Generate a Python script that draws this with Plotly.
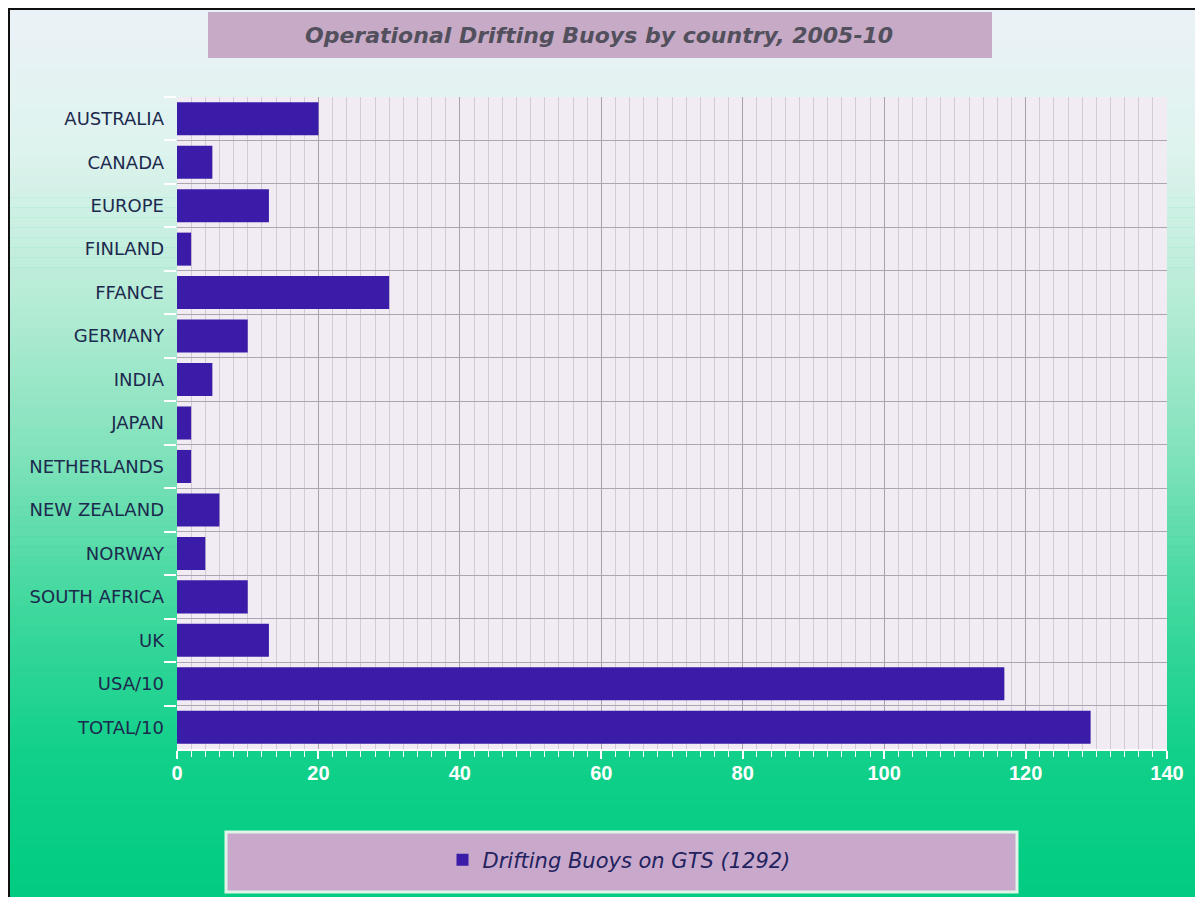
import plotly.graph_objects as go

countries = ["AUSTRALIA", "CANADA", "EUROPE", "FINLAND", "FFANCE", "GERMANY", "INDIA",
             "JAPAN", "NETHERLANDS", "NEW ZEALAND", "NORWAY", "SOUTH AFRICA", "UK",
             "USA/10", "TOTAL/10"]
buoys = [20, 5, 13, 2, 30, 10, 5, 2, 2, 6, 4, 10, 13, 117, 129.2]
series_name = "Drifting Buoys on GTS (1292)"
title_text = "Operational Drifting Buoys by country, 2005-10"
x_ticks = [0, 20, 40, 60, 80, 100, 120, 140]

W, H = 1203, 897
OFF = 8  # page body margin: screen = figure + 8
# plot area in screen pixels: x 177..1167, y 97..749
L = 177 - OFF
T = 97 - OFF
R = W - (1167 - OFF)
B = H - (749 - OFF)
PW, PH = W - L - R, H - T - B


def px(x):
    """screen x pixel -> paper coordinate"""
    return (x - OFF - L) / PW


def py(y):
    """screen y pixel -> paper coordinate"""
    return (H - B - (y - OFF)) / PH


fig = go.Figure()
fig.add_trace(go.Bar(
    x=buoys, y=countries, orientation="h", name=series_name,
    marker=dict(color="#3a1ca8", line=dict(width=0)), width=0.76,
))

shapes = []
# gradient background strips
stops = [(0, (236, 242, 248)), (150, (222, 243, 238)), (300, (182, 236, 214)),
         (450, (130, 226, 188)), (600, (66, 216, 158)), (750, (18, 208, 138)),
         (905, (0, 204, 128))]
n = 90
top, bot = OFF, OFF + H
for i in range(n):
    y0 = top + (bot - top) * i / n
    y1 = top + (bot - top) * (i + 1) / n
    ym = (y0 + y1) / 2
    c = stops[-1][1]
    for j in range(len(stops) - 1):
        if stops[j][0] <= ym <= stops[j + 1][0]:
            a, ca = stops[j]
            b, cb = stops[j + 1]
            t = (ym - a) / (b - a)
            c = tuple(int(round(ca[k] + (cb[k] - ca[k]) * t)) for k in range(3))
            break
    shapes.append(dict(type="rect", xref="paper", yref="paper", layer="below",
                       x0=px(OFF), x1=px(OFF + W), y0=py(y1 + 0.5), y1=py(y0),
                       fillcolor="rgb(%d,%d,%d)" % c, line=dict(width=0)))
# plot area background
shapes.append(dict(type="rect", xref="paper", yref="paper", layer="below",
                   x0=0, x1=1, y0=0, y1=1, fillcolor="#f1ebf3", line=dict(width=0)))
# frame lines (top and left)
shapes.append(dict(type="line", xref="paper", yref="paper", x0=px(9), x1=px(9),
                   y0=py(OFF + H), y1=py(OFF), line=dict(color="#101010", width=2)))
shapes.append(dict(type="line", xref="paper", yref="paper", x0=px(9), x1=px(OFF + W),
                   y0=py(9), y1=py(9), line=dict(color="#101010", width=2)))
# title box
shapes.append(dict(type="rect", xref="paper", yref="paper", x0=px(208), x1=px(992),
                   y0=py(58), y1=py(12), fillcolor="#c6aac6", line=dict(width=0)))
# legend box
shapes.append(dict(type="rect", xref="paper", yref="paper", x0=px(226), x1=px(1017),
                   y0=py(892), y1=py(832), fillcolor="#c9a9cb",
                   line=dict(color="#dff5ea", width=3)))

fig.update_layout(
    width=W, height=H,
    margin=dict(l=L, r=R, t=T, b=B, pad=0),
    paper_bgcolor="#00cc80",
    plot_bgcolor="#f1ebf3",
    shapes=shapes,
    font=dict(family="DejaVu Sans, Liberation Sans, Arial, sans-serif"),
    annotations=[dict(text=title_text, xref="paper", yref="paper", x=px(599), y=py(36),
                      xanchor="center", yanchor="middle", showarrow=False,
                      font=dict(size=22, color="#52505c", weight="bold", style="italic",
                                family="DejaVu Sans, sans-serif"))],
    showlegend=True,
    legend=dict(x=px(619), y=py(860), xanchor="center", yanchor="middle",
                bgcolor="rgba(0,0,0,0)", borderwidth=0,
                font=dict(size=21, color="#22225e", style="italic",
                          family="DejaVu Sans, sans-serif")),
    xaxis=dict(range=[0, 140], tickvals=x_ticks, ticktext=[str(v) for v in x_ticks],
               showgrid=True, gridcolor="#a8a0aa", gridwidth=1,
               ticks="outside", ticklen=8, tickcolor="white", tickwidth=2,
               ticklabelstandoff=-3,
               showline=True, linecolor="white", linewidth=2,
               zeroline=False,
               tickfont=dict(size=20, color="white", weight="bold",
                             family="Liberation Sans, Arial, sans-serif"),
               minor=dict(dtick=2, tick0=0, showgrid=True, gridcolor="#d4cad6",
                          ticks="outside", ticklen=6, tickcolor="white", tickwidth=1)),
    yaxis=dict(type="category", categoryorder="array", categoryarray=countries,
               autorange="reversed", tickson="boundaries",
               showgrid=True, gridcolor="#aca4ae", gridwidth=1,
               ticks="outside", ticklen=12, tickcolor="white", tickwidth=2,
               ticklabelstandoff=12,
               showline=False, zeroline=False,
               tickfont=dict(size=18, color="#1c2a4e", family="DejaVu Sans, sans-serif")),
)

fig.write_html("out.html")
